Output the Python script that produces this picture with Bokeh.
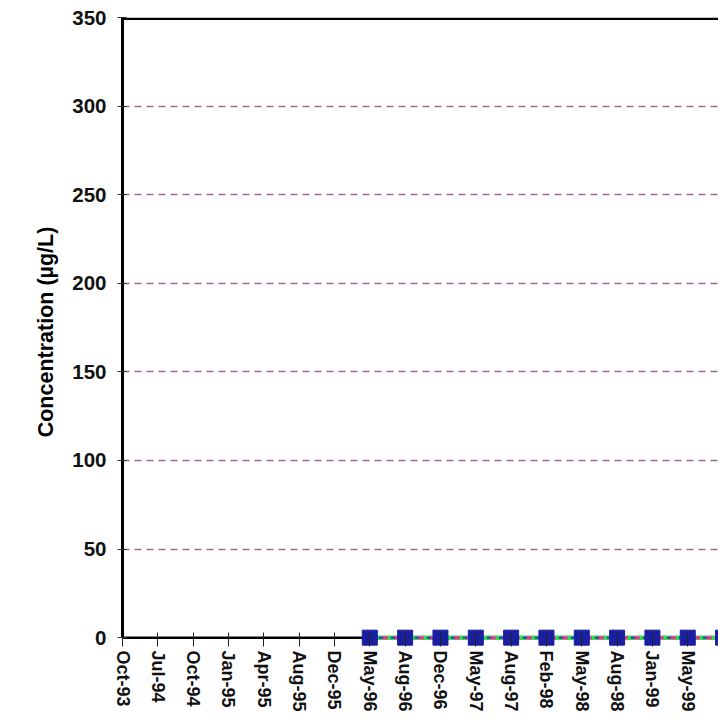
from bokeh.plotting import figure
from bokeh.models import FixedTicker, Span, ColumnDataSource, Range1d
from bokeh.embed import file_html
from bokeh.resources import INLINE

# ---- data ----
categories = ["Oct-93", "Jul-94", "Oct-94", "Jan-95", "Apr-95", "Aug-95", "Dec-95",
              "May-96", "Aug-96", "Dec-96", "May-97", "Aug-97", "Feb-98", "May-98",
              "Aug-98", "Jan-99", "May-99", "Aug-99"]
nan = float("nan")
concentration = [nan, nan, nan, nan, nan, nan, nan,
                 0, 0, 0, 0, 0, 0, 0, 0, 0, 0, 0]
y_ticks = [0, 50, 100, 150, 200, 250, 300, 350]

idx = list(range(len(categories)))
src = ColumnDataSource(dict(x=idx, y=concentration))

FONT = "Liberation Sans"

p = figure(width=718, height=714, output_backend="svg", toolbar_location=None,
           x_range=Range1d(0, 16.87), y_range=Range1d(-5, 350),
           min_border_left=122, min_border_right=0, min_border_top=17,
           min_border_bottom=67)
p.outline_line_color = None
p.background_fill_color = "white"
p.border_fill_color = "white"

# x axis
xa = p.xaxis[0]
xa.ticker = FixedTicker(ticks=idx)
xa.major_label_overrides = {i: c for i, c in enumerate(categories)}
xa.major_label_orientation = "vertical"
xa.major_label_text_font = FONT
xa.major_label_text_font_size = "18px"
xa.major_label_text_font_style = "bold"
xa.major_label_text_color = "#111111"
xa.axis_line_color = None
xa.major_tick_in = 14
xa.major_tick_out = 0
xa.major_tick_line_color = "#222222"
xa.major_tick_line_width = 1
xa.minor_tick_line_color = None
xa.major_label_standoff = 4

# y axis
ya = p.yaxis[0]
ya.ticker = FixedTicker(ticks=y_ticks)
ya.bounds = (0, 350)
ya.axis_label = "Concentration (\u00b5g/L)"
ya.axis_label_text_font = FONT
ya.axis_label_text_font_style = "bold"
ya.axis_label_text_font_size = "21.5px"
ya.axis_label_text_color = "black"
ya.axis_label_standoff = 11
ya.major_label_text_font = FONT
ya.major_label_text_font_size = "20.5px"
ya.major_label_text_font_style = "bold"
ya.major_label_text_color = "#111111"
ya.major_label_standoff = 11
ya.axis_line_color = "black"
ya.axis_line_width = 3
ya.major_tick_in = 4
ya.major_tick_out = 5
ya.major_tick_line_color = "#333333"
ya.minor_tick_line_color = None

# grid
p.xgrid.grid_line_color = None
p.ygrid.ticker = FixedTicker(ticks=[50, 100, 150, 200, 250, 300])
p.ygrid.grid_line_color = "#9a6a8e"
p.ygrid.grid_line_dash = "7 5"
p.ygrid.grid_line_width = 1.3

# axis line at zero and top border at 350 (under the series)
p.add_layout(Span(location=0, dimension="width", line_color="black", line_width=2.5,
                  level="underlay"))
p.add_layout(Span(location=349.3, dimension="width", line_color="black", line_width=2.5))

# series
p.line("x", "y", source=src, line_color="#33e04a", line_width=4.5)
p.line("x", "y", source=src, line_color="#ff2aa0", line_width=3, line_dash="6 6")
p.line("x", "y", source=src, line_color="#2a3ad0", line_width=2, line_dash="4 8", line_dash_offset=3)
p.scatter("x", "y", source=src, marker="square", size=15,
          fill_color="#1a1fa0", line_color="#1a1fa0")

open("out.html", "w").write(file_html(p, INLINE))
